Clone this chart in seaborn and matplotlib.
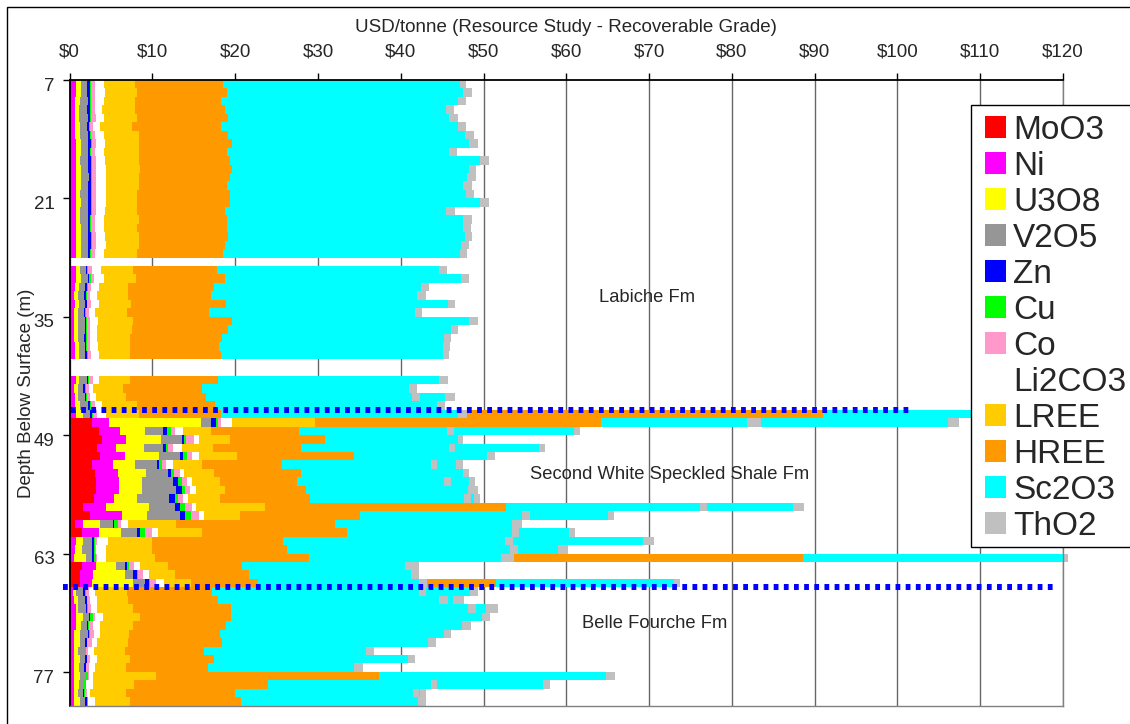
import numpy as np
import pandas as pd
import matplotlib
matplotlib.use("Agg")
import matplotlib.pyplot as plt
from matplotlib.patches import Patch, Rectangle
import seaborn as sns

# Sample depths (m); 28, 40 and 41 have no assays
depth = list(range(7, 28)) + list(range(29, 40)) + list(range(42, 81))

# In-situ value per tonne (USD) by commodity, one value per depth
moo3 = [0] * 21 + [0] * 11 + [0, 0, 0, 0, 0,
        2.66, 3.54, 3.86, 3.26, 3.66, 2.66, 3.06, 3.18, 3.18, 2.98, 1.57, 2.46, 0.64, 1.45,
        0, 0, 0, 1.45, 1.25, 1.25] + [0] * 14
ni = [0.76, 0.72, 0.70, 0.70, 0.70, 0.70, 0.70, 0.72, 0.72, 0.72, 0.75, 0.75, 0.72, 0.72, 0.72, 0.72, 0.72, 0.72, 0.72, 0.72, 0.72,
      0.72, 0.72, 0.60, 0.55, 0.60, 0.50, 0.55, 0.55, 0.55, 0.60, 0.60,
      0.72, 0.55, 0.60, 0.70, 0.76, 2.09, 2.54, 2.94, 2.33, 3.02, 2.62, 2.74, 2.78, 2.78, 2.38, 2.82, 3.82, 0.93, 2.09,
      0.76, 0.64, 0.52, 1.73, 1.53, 1.41,
      0.44, 0.52, 0.76, 0.76, 0.76, 0.52, 0.52, 0.52, 0.52, 0.52, 0.52, 0.52, 0.52, 0.52]
u3o8 = [0.60, 0.60, 0.50, 0.40, 0.45, 0.50, 0.55, 0.60, 0.60, 0.55, 0.60, 0.60, 0.60, 0.55, 0.60, 0.50, 0.55, 0.60, 0.60, 0.60, 0.60,
        0.48, 0.60, 0.50, 0.45, 0.50, 0.50, 0.50, 0.45, 0.50, 0.50, 0.55,
        0.36, 0.40, 0.45, 0.60, 0.81, 11.07, 3.02, 4.23, 3.38, 4.15, 2.62, 3.38, 2.82, 2.74, 2.82, 5.19, 3.02, 2.09, 2.66,
        0.89, 0.89, 1.41, 2.42, 3.90, 5.03,
        0.30, 0.52, 0.28, 0.81, 0.60, 0.76, 0.72, 0.52, 0.72, 0.64, 0.72, 0.64, 0.44, 0.72]
v2o5 = [0.72, 0.80, 1.00, 1.05, 1.05, 0.90, 0.95, 0.90, 0.90, 0.95, 0.90, 0.95, 0.90, 0.95, 0.90, 1.00, 0.90, 0.85, 0.90, 0.95, 0.85,
        0.72, 0.93, 0.80, 0.75, 0.75, 0.70, 0.75, 0.80, 0.70, 0.70, 0.75,
        0.97, 0.70, 0.75, 0.90, 0.89, 1.25, 2.21, 2.50, 2.33, 2.50, 2.62, 2.66, 3.66, 4.15, 3.86, 3.14, 4.03, 1.61, 1.97,
        1.09, 1.13, 0.81, 1.09, 0.93, 1.41,
        0.89, 0.81, 0.93, 0.81, 0.68, 0.89, 0.60, 0.81, 0.64, 0.60, 0.60, 0.56, 0.60, 0.60]
zn = [0.32, 0.30, 0.30, 0.30, 0.30, 0.25, 0.28, 0.30, 0.25, 0.30, 0.30, 0.30, 0.30, 0.32, 0.30, 0.32, 0.30, 0.30, 0.30, 0.30, 0.30,
      0.20, 0.08, 0.20, 0.20, 0.20, 0.20, 0.20, 0.20, 0.20, 0.20, 0.20,
      0.20, 0.20, 0.20, 0.25, 0.28, 0.56, 0.48, 0.32, 0.28, 0.32, 0.32, 0.36, 0.60, 0.68, 0.68, 0.60, 0.60, 0.12, 0.32,
      0.20, 0.24, 0.24, 0.28, 0.48, 0.48,
      0.20, 0.20, 0.16, 0.10, 0.20, 0.16, 0.20, 0.04, 0.16, 0.20, 0.04, 0.04, 0.20, 0.28]
cu = [0.12, 0.12, 0.10, 0.10, 0.12, 0.10, 0.12, 0.12, 0.12, 0.12, 0.12, 0.12, 0.12, 0.12, 0.12, 0.10, 0.12, 0.12, 0.12, 0.12, 0.12,
      0.08, 0.24, 0.08, 0.08, 0.08, 0.08, 0.10, 0.12, 0.08, 0.08, 0.08,
      0.08, 0.08, 0.08, 0.10, 0.12, 0.24, 0.40, 0.20, 0.24, 0.48, 0.28, 0.40, 0.48, 0.40, 0.32, 0.60, 0.72, 0.40, 0.60,
      0.12, 0.20, 0.16, 0.20, 0.12, 0.12,
      0.10, 0.08, 0.08, 0.28, 0.08, 0.08, 0.08, 0.12, 0.06, 0.06, 0.28, 0.24, 0.04, 0.04]
co = [0.52, 0.50, 0.50, 0.45, 0.50, 0.40, 0.50, 0.50, 0.45, 0.50, 0.50, 0.48, 0.50, 0.50, 0.50, 0.48, 0.50, 0.50, 0.50, 0.50, 0.50,
      0.44, 0.36, 0.40, 0.40, 0.45, 0.35, 0.40, 0.35, 0.40, 0.40, 0.40,
      0.50, 0.35, 0.40, 0.45, 0.40, 0.36, 0.52, 1.00, 0.60, 0.60, 0.48, 0.72, 0.60, 0.60, 0.68, 0.81, 0.97, 0.40, 0.81,
      0.20, 0.10, 0.10, 0.64, 0.68, 0.72,
      0.40, 0.32, 0.32, 0.32, 0.48, 0.48, 0.52, 0.20, 0.40, 0.28, 0.12, 0.00, 0.28, 0.10]
li2co3 = [1.09, 1.23, 1.05, 0.90, 1.03, 0.81, 1.05, 1.17, 1.11, 1.17, 1.22, 1.19, 1.25, 1.23, 1.25, 1.19, 1.06, 1.06, 1.17, 1.20, 1.06,
          1.09, 1.20, 1.00, 0.87, 0.96, 0.73, 0.88, 0.83, 0.87, 0.90, 1.00,
          0.71, 0.54, 0.74, 0.90, 1.13, 1.36, 0.97, 0.56, 1.09, 0.89, 0.93, 0.52, 0.60, 0.68, 0.52, 0.48, 0.60, 0.81, 0.72,
          1.33, 1.20, 1.20, 0.68, 0.68, 0.93,
          0.72, 0.81, 0.80, 0.89, 0.81, 0.81, 0.68, 0.68, 0.80, 0.72, 0.52, 0.76, 0.40, 0.80]
lree = [3.74, 3.82, 3.74, 3.99, 3.94, 3.87, 4.18, 4.02, 4.18, 4.10, 4.06, 4.02, 3.94, 3.70, 3.70, 3.86, 4.26, 3.98, 4.02, 3.94, 4.02,
        3.87, 3.94, 3.47, 3.75, 3.83, 3.86, 4.27, 4.27, 3.99, 3.91, 3.71,
        3.71, 3.62, 3.54, 4.20, 3.95, 10.03, 3.38, 3.74, 3.82, 4.58, 3.50, 3.58, 3.42, 3.54, 3.90, 8.38, 4.38, 5.84, 5.31,
        5.31, 5.56, 5.92, 3.42, 3.14, 3.30,
        3.82, 3.74, 4.31, 4.47, 4.07, 3.46, 3.74, 3.82, 4.03, 3.82, 7.65, 5.03, 4.35, 4.23]
hree = [10.59, 10.91, 10.39, 10.87, 10.99, 10.75, 10.75, 11.24, 10.67, 10.91, 11.12, 10.91, 10.67, 11.23, 11.23, 10.59, 10.59, 10.87, 10.75, 10.43, 10.31,
        10.22, 10.67, 10.34, 10.02, 11.47, 9.91, 11.92, 11.51, 11.07, 10.75, 10.99,
        10.62, 9.50, 9.67, 9.45, 9.97, 34.62, 10.63, 11.47, 10.65, 14.10, 9.58, 10.47, 9.34, 9.74, 10.94, 29.10, 14.50, 19.16, 17.56,
        15.90, 16.28, 18.60, 8.88, 8.98, 8.07,
        10.30, 10.87, 11.79, 11.03, 11.15, 11.03, 11.28, 9.54, 10.14, 9.87, 26.97, 16.14, 13.16, 13.40]
sc2o3 = [28.66, 28.54, 28.62, 26.69, 26.77, 28.62, 28.71, 28.62, 26.85, 30.23, 28.62, 28.71, 28.54, 28.55, 30.23, 26.69, 28.54, 28.54, 28.71, 28.54, 28.66,
         26.77, 28.50, 25.11, 24.93, 26.81, 24.87, 28.63, 26.97, 26.84, 27.06, 26.82,
         26.73, 25.04, 24.97, 26.85, 28.56, 17.63, 17.95, 16.07, 17.80, 16.10, 18.00, 19.60, 17.70, 19.60, 18.60, 23.40, 19.50, 21.40, 19.90,
         26.80, 26.90, 23.10, 19.70, 19.50, 19.50,
         25.00, 26.77, 28.66, 30.40, 28.58, 26.97, 24.96, 19.53, 23.39, 17.67, 27.40, 19.69, 21.54, 21.41]
tho2 = [0.81, 1.05, 0.93, 0.97, 1.01, 0.93, 1.00, 1.08, 0.89, 1.05, 0.88, 1.00, 1.05, 0.96, 1.05, 1.05, 1.05, 0.93, 0.80, 0.89, 0.81,
        1.01, 0.94, 0.90, 1.00, 0.85, 0.90, 1.10, 0.81, 0.90, 0.80, 0.75,
        1.05, 0.92, 0.90, 1.00, 1.08, 1.61, 0.75, 0.60, 0.80, 1.00, 0.80, 0.70, 0.90, 1.20, 0.80, 0.90, 1.00, 1.30, 0.90,
        1.00, 1.00, 1.60, 1.70, 1.00, 0.90,
        0.90, 1.01, 1.01, 0.88, 1.09, 0.88, 0.96, 1.00, 0.88, 1.05, 1.00, 0.80, 0.70, 0.93]

# Duplicate assays at some depths (drawn behind the primary bar)
dup_depth = [44, 46, 47, 48, 50, 52, 54, 56, 57, 58, 60, 61, 62, 63, 66, 67, 68, 69, 78, 79]
dup_hree = [9.67, 82.67, 34.62, 10.63, 10.65, 9.58, 9.34, 10.94, 29.10, 14.50, 17.56, 15.90, 16.28, 78.21, 36.87,
            10.30, 10.87, 11.79, 16.14, 13.16]
dup_sc2o3 = [28.97, 19.50, 41.85, 33.20, 28.70, 21.10, 20.70, 19.80, 34.70, 29.90, 26.80, 43.50, 32.70, 31.40, 21.50,
             31.16, 28.46, 30.92, 33.30, 22.34]
dup_tho2 = [1.10, 1.00, 1.30, 0.70, 0.80, 0.80, 0.80, 0.70, 1.30, 0.70, 0.80, 1.30, 1.30, 0.60, 0.70,
            1.00, 1.29, 1.41, 0.80, 0.70]

commodities = ["MoO3", "Ni", "U3O8", "V2O5", "Zn", "Cu", "Co", "Li2CO3", "LREE", "HREE", "Sc2O3", "ThO2"]
colors = ["#FF0000", "#FF00FF", "#FFFF00", "#969696", "#0000FF", "#00FF00", "#FF99CC", "#FFFFFF",
          "#FFCC00", "#FF9900", "#00FFFF", "#C0C0C0"]

# Formation names
formations = ["Labiche Fm", "Second White Speckled Shale Fm", "Belle Fourche Fm"]
x_ticks = list(range(0, 121, 10))
depth_ticks = [7, 21, 35, 49, 63, 77]

primary = pd.DataFrame(dict(zip(commodities, [moo3, ni, u3o8, v2o5, zn, cu, co, li2co3, lree, hree, sc2o3, tho2])))
primary.insert(0, "depth", depth)

duplicate = primary.set_index("depth").loc[dup_depth].reset_index()
duplicate["HREE"] = dup_hree
duplicate["Sc2O3"] = dup_sc2o3
duplicate["ThO2"] = dup_tho2

sns.set_theme(style="white")
plt.rcParams["font.family"] = ["Liberation Sans", "DejaVu Sans"]

fig = plt.figure(figsize=(11.3, 7.24), dpi=100)
ax = fig.add_axes([69.7 / 1130, 1 - 705.7 / 724, 993.3 / 1130, 625.7 / 724])


def draw_stack(frame, clip=True):
    """Stacked horizontal bars: draw running totals from longest to shortest."""
    totals = frame[commodities].cumsum(axis=1)
    for name, col in reversed(list(zip(commodities, colors))):
        sns.barplot(x=totals[name], y=frame["depth"], orient="h", native_scale=True,
                    width=1.0, color=col, saturation=1, errorbar=None,
                    linewidth=0, edgecolor="none", antialiased=False, clip_on=clip,
                    ax=ax, zorder=2)


draw_stack(duplicate, clip=False)
draw_stack(primary)

# Formation contacts
ax.plot([0.15, 101.9], [45.5, 45.5], color="#0000FF", lw=4.3, linestyle=(0, (0.8, 0.9)),
        dash_capstyle="butt", zorder=5, clip_on=False)
ax.plot([-0.85, 118.8], [66.5, 66.5], color="#0000FF", lw=4.3, linestyle=(0, (0.8, 0.9)),
        dash_capstyle="butt", zorder=5, clip_on=False)

ax.text(69.8, 32.2, formations[0], ha="center", va="center", fontsize=13.2, zorder=6)
ax.text(72.5, 53.1, formations[1], ha="center", va="center", fontsize=13.2, zorder=6)
ax.text(70.7, 70.8, formations[2], ha="center", va="center", fontsize=13.2, zorder=6)

ax.set_xlim(0, 120)
ax.set_ylim(80.5, 6.5)

# Value axis on top
ax.xaxis.tick_top()
ax.xaxis.set_label_position("top")
ax.set_xticks(x_ticks)
ax.set_xticklabels([f"${v}" for v in x_ticks])
ax.tick_params(axis="x", which="major", top=True, bottom=False, direction="out", length=5,
               width=1, color="black", labelsize=13.5, pad=9.3)
ax.set_xlabel("USD/tonne (Resource Study - Recoverable Grade)", fontsize=13.5)
ax.xaxis.set_label_coords(0.5, 1.077)

# Depth axis: labels centred on samples, marks between samples
ax.set_yticks(depth_ticks)
ax.set_yticklabels([str(d) for d in depth_ticks])
ax.set_yticks([d - 0.5 for d in depth_ticks], minor=True)
ax.tick_params(axis="y", which="major", left=True, length=0, labelsize=13.5, pad=11)
ax.tick_params(axis="y", which="minor", left=True, direction="out", length=5, width=1, color="black")
ax.set_ylabel("Depth Below Surface (m)", fontsize=13.5)
ax.yaxis.set_label_coords(-0.0346, 0.5)

ax.set_axisbelow(True)
ax.grid(axis="x", color="#666666", lw=1.0, zorder=0)
ax.grid(axis="y", visible=False)
for side in ["top", "left"]:
    ax.spines[side].set_color("black")
    ax.spines[side].set_linewidth(1.3)
for side in ["bottom", "right"]:
    ax.spines[side].set_color("#808080")
    ax.spines[side].set_linewidth(1.0)

# Legend: white box with black border, entries laid out inside it
fig.patches.append(Rectangle((971 / 1130, 1 - 547 / 724), 0.2, (547 - 105) / 724,
                             transform=fig.transFigure, facecolor="white", edgecolor="black",
                             lw=1.0, zorder=4))
handles = [Patch(facecolor=c, edgecolor="none", label=n) for n, c in zip(commodities, colors)]
leg = fig.legend(handles=handles, loc="upper left", bbox_to_anchor=(985 / 1130, 1 - 115 / 724),
                 fontsize=24, frameon=False, borderpad=0, labelspacing=0.15,
                 handlelength=0.63, handleheight=0.63, handletextpad=0.21, borderaxespad=0)
leg.set_zorder(6)

# Chart border
fig.patches.append(Rectangle((7 / 1130, -0.01), 1.2, 1 - 7 / 724 + 0.01, transform=fig.transFigure,
                             fill=False, edgecolor="black", lw=1.0, zorder=10))

fig.savefig("out.png", dpi=100)
